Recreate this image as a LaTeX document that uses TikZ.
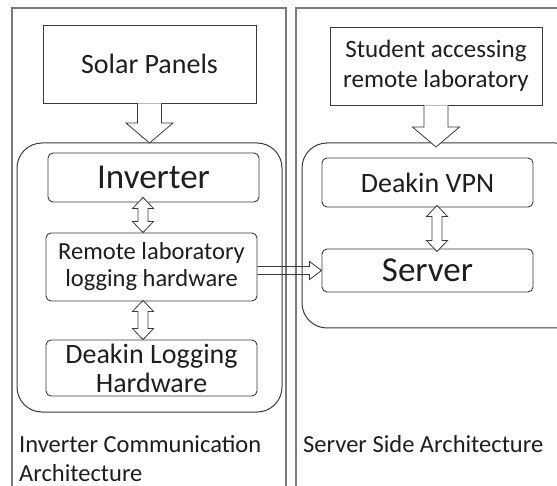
\documentclass[tikz,border=0pt]{standalone}
\usepackage{fontspec}
\setmainfont{Carlito}
\usetikzlibrary{calc}
\definecolor{boxline}{HTML}{3A3A3A}
\definecolor{panelline}{HTML}{7A7A7A}
\definecolor{txt}{HTML}{1E1E1E}
\tikzset{
  panel/.style={draw=panelline, line width=1.5pt},
  group/.style={draw=boxline, line width=1pt, rounded corners=25pt},
  plainbox/.style={draw=boxline, line width=0.9pt, text=txt, align=center, inner sep=0pt},
  roundbox/.style={plainbox, rounded corners=5pt},
  harrow/.style={draw=boxline, line width=0.8pt, line join=miter},
  harrowfill/.style={harrow, fill=white},
  caption/.style={text=txt, align=left, inner sep=0pt, anchor=base west}
}
\newcommand\downblock[2]{%
  \draw[harrowfill] ($(#1)+(-12,0)$) -- ($(#2)+(-12,-20)$) -- ($(#2)+(-23.5,-20)$) -- (#2)
    -- ($(#2)+(23.5,-20)$) -- ($(#2)+(12,-20)$) -- ($(#1)+(12,0)$);}
\newcommand\dblblock[2]{%
  \draw[harrowfill] (#1) -- ($(#1)+(10.5,11)$) -- ($(#1)+(5,11)$) -- ($(#2)+(5,-11)$)
    -- ($(#2)+(10.5,-11)$) -- (#2) -- ($(#2)+(-10.5,-11)$) -- ($(#2)+(-5,-11)$)
    -- ($(#1)+(-5,11)$) -- ($(#1)+(-10.5,11)$) -- cycle;}
\begin{document}
\begin{tikzpicture}[x=1pt,y=-1pt]
\useasboundingbox (0,0) rectangle (557,486);
\begin{scope}
\clip (0,0) rectangle (557,486);
% panels
\draw[panel] (12,520) -- (12,8) -- (286,8) -- (286,520);
\draw[panel] (296,520) -- (296,8) -- (600,8);
% group boxes
\draw[group] (17,143) rectangle (282,412);
\coordinate (lgtop) at (149.5,143);
\draw[group] (302,143) rectangle (580,328);
% top boxes
\node[plainbox, minimum width=213pt, minimum height=78pt, font=\fontsize{28}{30}\selectfont] (solar) at (149.5,64) {Solar Panels};
\node[plainbox, minimum width=212pt, minimum height=78pt, font=\fontsize{25}{30}\selectfont] (student) at (436,66) {Student accessing\\remote laboratory};
% inner boxes left
\node[roundbox, minimum width=211pt, minimum height=49pt, font=\fontsize{35}{38}\selectfont] (inverter) at (153.5,177.5) {Inverter};
\node[roundbox, minimum width=211pt, minimum height=68pt, font=\fontsize{24.5}{27}\selectfont] (remote) at (151.5,267) {Remote laboratory\\logging hardware};
\node[roundbox, minimum width=211pt, minimum height=56pt, font=\fontsize{28}{29}\selectfont] (deakinlog) at (151.5,368) {Deakin Logging\\Hardware};
% inner boxes right
\node[roundbox, minimum width=211pt, minimum height=49pt, font=\fontsize{28}{30}\selectfont] (vpn) at (427.5,182.5) {Deakin VPN};
\node[roundbox, minimum width=211pt, minimum height=43pt, font=\fontsize{35}{38}\selectfont] (server) at (427.5,270.5) {Server};
% arrows down
\downblock{solar.south}{lgtop}
\coordinate (rgtop) at (student.south |- 0,147);
\downblock{student.south}{rgtop}
% double arrows
\coordinate (c1) at (143,0);
\coordinate (c2) at (437,0);
\dblblock{$(c1 |- inverter.south)+(0,-5)$}{c1 |- remote.north}
\dblblock{$(c1 |- remote.south)+(0,-1)$}{c1 |- deakinlog.north}
\dblblock{$(c2 |- vpn.south)+(0,-2)$}{$(c2 |- server.north)+(0,3)$}
% horizontal arrow
\coordinate (hs) at (remote.east |- server.west);
\draw[harrow] ($(hs)+(0,-4)$) -- ($(server.west)+(-12,-4)$) -- ($(server.west)+(-12,-9)$) -- (server.west)
  -- ($(server.west)+(-12,9)$) -- ($(server.west)+(-12,4)$) -- ($(hs)+(0,4)$);
% captions
\node[caption, font=\fontsize{24.5}{29}\selectfont] (capl) at (19,481) {Inverter Communication\\Architecture};
\node[caption, font=\fontsize{24.5}{29}\selectfont] (capr) at (303,452) {Server Side Architecture};
\end{scope}
\end{tikzpicture}
\end{document}
